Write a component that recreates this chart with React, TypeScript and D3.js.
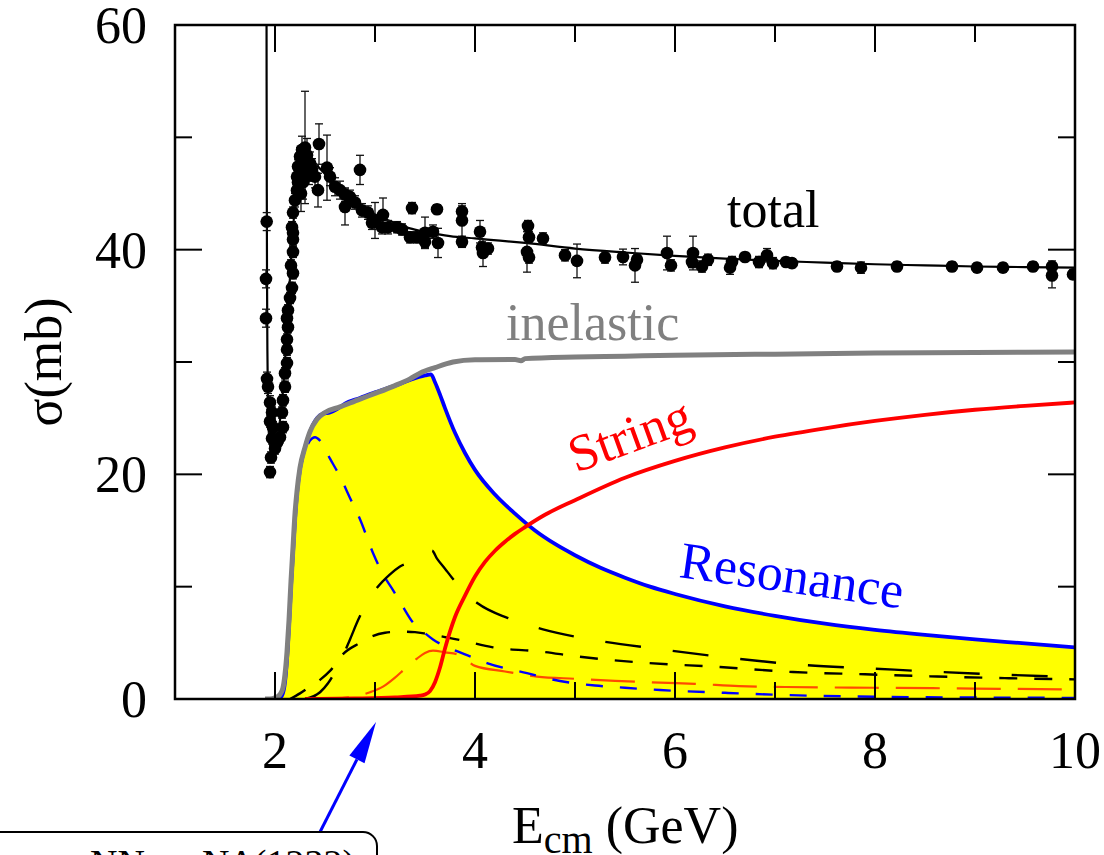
import React from 'react';
import * as d3 from 'd3';

// Plot frame (pixels) and font
const W = 1104;
const H = 855;
const FRAME = { left: 175, right: 1075, top: 25, bottom: 699 };
const SERIF = '"Liberation Serif", "Times New Roman", serif';

// Axis ticks
const xMajorTicks = [2, 4, 6, 8, 10];
const xMinorTicks = [3, 5, 7, 9];
const yMajorTicks = [0, 20, 40, 60];
const yMinorTicks = [10, 30, 50];

type Pt = [number, number];

// Model curves: [E_cm (GeV), sigma (mb)]
const totalCurve: Pt[] = [
  [1.914, 75], [1.916, 55], [1.918, 45], [1.92, 38], [1.924, 31], [1.93, 26], [1.94, 23.5],
  [1.96, 22.3], [1.99, 22.2], [2.02, 23.0], [2.05, 24.8], [2.08, 27.5], [2.11, 31.5],
  [2.14, 36.0], [2.17, 40.5], [2.2, 44.0], [2.23, 46.3], [2.27, 47.7], [2.32, 48.2],
  [2.38, 47.9], [2.45, 47.2], [2.55, 46.3], [2.65, 45.5], [2.75, 44.7], [2.9, 43.7],
  [3.05, 42.9], [3.2, 42.4], [3.35, 41.9], [3.5, 41.6], [3.75, 41.2], [4.0, 41.0],
  [4.25, 40.8], [4.5, 40.6], [5.0, 40.1], [5.5, 39.75], [6.0, 39.45], [6.5, 39.2],
  [7.0, 39.0], [7.5, 38.85], [8.0, 38.7], [8.5, 38.6], [9.0, 38.5], [9.5, 38.45], [10.0, 38.4],
];

const inelasticCurve: Pt[] = [
  [1.9, 0], [1.95, 0], [2.0, 0.1], [2.05, 0.4], [2.08, 1.0], [2.1, 2.2], [2.12, 4.2],
  [2.14, 7.0], [2.16, 10.5], [2.18, 13.5], [2.2, 16.5], [2.22, 18.5], [2.25, 20.6],
  [2.3, 22.4], [2.35, 23.8], [2.42, 24.9], [2.5, 25.5], [2.65, 26.0], [2.85, 26.7],
  [3.0, 27.2], [3.2, 27.9], [3.35, 28.5], [3.45, 29.0], [3.6, 29.5], [3.78, 30.0],
  [4.0, 30.2], [4.4, 30.22], [4.46, 30.12], [4.5, 30.3], [5.0, 30.45], [5.5, 30.52],
  [6.0, 30.6], [7.0, 30.7], [8.0, 30.8], [9.0, 30.85], [10.0, 30.9],
];

const resonanceCurve: Pt[] = [
  [1.9, 0], [2.03, 0], [2.07, 0.3], [2.1, 1.5], [2.12, 3.5], [2.14, 6.5], [2.16, 10],
  [2.18, 13], [2.2, 16], [2.22, 18.3], [2.25, 20.5], [2.3, 22.4], [2.35, 23.8],
  [2.42, 25.0], [2.48, 25.4], [2.55, 25.5], [2.62, 25.8], [2.7, 26.3], [2.85, 26.8],
  [3.0, 27.3], [3.2, 27.9], [3.35, 28.4], [3.5, 28.8], [3.56, 28.9], [3.6, 28.2],
  [3.65, 27.1], [3.7, 25.9], [3.8, 23.7], [3.9, 21.9], [4.0, 20.4], [4.2, 18.2],
  [4.4, 16.5], [4.6, 15.0], [4.8, 13.8], [5.0, 12.8], [5.25, 11.7], [5.5, 10.8],
  [5.75, 10.0], [6.0, 9.35], [6.5, 8.25], [7.0, 7.4], [7.5, 6.7], [8.0, 6.15],
  [8.5, 5.7], [9.0, 5.3], [9.5, 4.95], [10.0, 4.6],
];

// NN -> N Delta(1232)
const deltaCurve: Pt[] = [
  [1.9, 0], [2.03, 0], [2.07, 0.3], [2.1, 1.5], [2.12, 3.5], [2.14, 6.5], [2.16, 10],
  [2.18, 13], [2.2, 16], [2.22, 18.3], [2.25, 20.3], [2.3, 22.0], [2.35, 23.0],
  [2.4, 23.3], [2.45, 23.0], [2.55, 21.4], [2.65, 19.8], [2.75, 17.9], [2.85, 16.0],
  [2.98, 13.0], [3.08, 11.1], [3.18, 9.7], [3.28, 8.2], [3.38, 6.8], [3.48, 6.0],
  [3.58, 5.3], [3.78, 4.4], [3.95, 3.8], [4.12, 3.2], [4.52, 2.3], [4.85, 1.6],
  [5.2, 1.2], [5.5, 1.0], [5.85, 0.8], [6.5, 0.55], [7.0, 0.38], [8.0, 0.2],
  [9.0, 0.13], [10.0, 0.1],
];

const channelLong: Pt[] = [
  [2.3, 0], [2.45, 0.6], [2.53, 1.4], [2.65, 3.3], [2.75, 5.3], [2.83, 7.0], [2.92, 8.6],
  [3.02, 9.9], [3.15, 11.1], [3.25, 11.8], [3.42, 12.4], [3.5, 12.9], [3.57, 13.2],
  [3.62, 12.5], [3.7, 11.6], [3.77, 10.8], [3.9, 9.5], [4.03, 8.5], [4.33, 7.2],
  [4.68, 6.2], [5.19, 5.25], [5.88, 4.4], [6.56, 3.65], [7.25, 3.05], [8.0, 2.7],
  [8.66, 2.4], [9.34, 2.15], [10.0, 1.95],
];

const channelShort: Pt[] = [
  [2.15, 0], [2.25, 0.5], [2.35, 1.1], [2.45, 1.7], [2.55, 2.5], [2.68, 4.0], [2.85, 5.0],
  [2.95, 5.5], [3.1, 5.9], [3.25, 6.0], [3.4, 5.95], [3.52, 5.8], [3.85, 5.25],
  [4.18, 4.6], [4.68, 4.2], [5.01, 3.8], [5.73, 3.2], [6.45, 2.85], [7.18, 2.4],
  [7.9, 2.2], [8.62, 2.0], [9.34, 1.85], [10.0, 1.75],
];

const channelOrange: Pt[] = [
  [2.3, 0], [2.6, 0.05], [2.8, 0.25], [2.95, 0.6], [3.08, 1.1], [3.2, 1.9], [3.3, 2.7],
  [3.42, 3.6], [3.5, 4.1], [3.58, 4.3], [3.7, 4.15], [3.85, 3.9], [4.0, 2.95],
  [4.3, 2.45], [4.62, 2.0], [5.0, 1.8], [5.4, 1.62], [5.85, 1.45], [6.2, 1.35],
  [6.64, 1.15], [7.1, 1.07], [7.5, 1.03], [8.0, 1.0], [9.0, 0.93], [10.0, 0.85],
];

const stringCurve: Pt[] = [
  [2.3, 0], [2.8, 0.05], [3.2, 0.15], [3.45, 0.3], [3.5, 0.4], [3.55, 0.7], [3.6, 1.5],
  [3.65, 2.8], [3.7, 4.5], [3.8, 7.3], [3.9, 9.2], [4.0, 10.9], [4.1, 12.2],
  [4.2, 13.2], [4.3, 14.0], [4.4, 14.7], [4.5, 15.3], [4.7, 16.4], [5.0, 17.7],
  [5.5, 19.7], [6.0, 21.2], [6.5, 22.4], [7.0, 23.35], [7.5, 24.1], [8.0, 24.75],
  [8.5, 25.3], [9.0, 25.75], [9.5, 26.1], [10.0, 26.4],
];

// Measured total cross sections: [E_cm (GeV), sigma (mb), error (mb)]
const measurements: [number, number, number][] = [
  [1.917, 42.5, 0.8], [1.91, 37.4, 0.8], [1.91, 33.9, 0.8], [1.92, 28.5, 0.6],
  [1.93, 27.8, 0.6], [1.95, 26.4, 0.6], [1.97, 25.5, 0.5], [1.95, 24.7, 0.5],
  [1.98, 24.2, 0.5], [1.97, 23.2, 0.5], [2.02, 22.8, 0.5], [2.0, 22.3, 0.5],
  [1.96, 21.5, 0.5], [1.95, 20.2, 0.5],
  [2.05, 23.3, 0.5], [2.08, 24.2, 0.5], [2.07, 25.5, 0.5], [2.08, 26.6, 0.5],
  [2.1, 27.8, 0.5], [2.1, 29.0, 0.5], [2.12, 29.9, 0.5], [2.12, 31.1, 0.5],
  [2.12, 32.0, 0.5], [2.13, 33.1, 0.5], [2.12, 33.9, 0.5], [2.13, 34.6, 0.5],
  [2.15, 35.7, 0.5], [2.17, 36.6, 0.5], [2.18, 37.9, 0.5], [2.16, 38.6, 0.5],
  [2.18, 39.8, 0.5], [2.18, 40.9, 0.5], [2.18, 41.5, 0.5], [2.17, 42.0, 0.5],
  [2.18, 43.3, 0.5], [2.2, 44.4, 0.6], [2.22, 45.3, 0.6], [2.22, 46.5, 0.6],
  [2.23, 47.4, 0.6], [2.25, 48.3, 0.8], [2.27, 48.9, 1.2], [2.3, 49.1, 5.0],
  [2.32, 48.4, 1.5], [2.35, 47.7, 1.0], [2.37, 47.1, 1.0], [2.4, 46.5, 1.0],
  [2.43, 45.3, 1.5], [2.44, 49.4, 1.8], [2.23, 46.0, 0.8], [2.25, 47.0, 0.8],
  [2.28, 46.0, 1.5], [2.3, 47.5, 1.2], [2.34, 46.6, 0.8], [2.26, 45.0, 1.6],
  [2.52, 47.3, 2.9], [2.55, 46.5, 0.8], [2.6, 45.6, 0.8], [2.65, 45.3, 0.8],
  [2.7, 44.9, 0.6], [2.7, 43.8, 1.6], [2.75, 44.7, 0.6], [2.8, 44.2, 0.6],
  [2.85, 47.1, 1.3], [2.87, 43.5, 0.6], [2.93, 43.3, 0.6], [2.97, 42.4, 0.6],
  [3.08, 43.1, 1.5], [3.07, 42.0, 0.6], [3.13, 42.0, 0.6], [3.0, 42.6, 1.6],
  [3.22, 42.0, 0.5], [3.27, 41.8, 0.5], [3.37, 43.7, 0.5], [3.35, 41.1, 0.5],
  [3.42, 41.1, 0.5], [3.5, 41.5, 1.4], [3.5, 40.7, 0.5], [3.58, 41.6, 0.6],
  [3.62, 43.6, 0.4], [3.63, 40.6, 1.3], [3.87, 43.4, 0.5], [3.87, 42.6, 1.5],
  [3.87, 40.7, 0.5], [4.05, 41.6, 1.0], [4.07, 40.2, 0.5], [4.08, 39.7, 1.2],
  [4.13, 40.1, 0.5], [4.53, 42.1, 0.5], [4.54, 41.1, 0.5], [4.52, 39.8, 1.8],
  [4.54, 39.3, 0.5], [4.68, 41.0, 0.5], [4.9, 39.5, 0.5], [5.02, 39.0, 1.5],
  [5.3, 39.3, 0.5], [5.48, 39.35, 0.7], [5.62, 39.1, 0.5], [5.6, 38.6, 1.5],
  [5.92, 39.7, 1.5], [5.96, 38.6, 0.5], [6.18, 39.7, 1.5], [6.17, 38.9, 0.5],
  [6.27, 38.5, 0.5], [6.33, 39.1, 0.5], [6.57, 38.9, 0.5], [6.55, 38.4, 0.6],
  [6.7, 39.35, 0.4], [6.84, 38.9, 0.5], [6.92, 39.5, 0.6], [6.98, 38.8, 0.5],
  [7.11, 38.9, 0.4], [7.17, 38.8, 0.4], [7.62, 38.5, 0.4], [7.86, 38.4, 0.5],
  [8.22, 38.5, 0.4], [8.77, 38.5, 0.4], [9.02, 38.4, 0.4], [9.28, 38.4, 0.4],
  [9.58, 38.5, 0.4], [9.77, 38.5, 0.5], [9.77, 37.7, 1.1], [9.98, 37.8, 0.4],
];

export default function App() {
  const x = d3.scaleLinear().domain([1, 10]).range([FRAME.left, FRAME.right]);
  const y = d3.scaleLinear().domain([0, 60]).range([FRAME.bottom, FRAME.top]);

  const line = d3
    .line<Pt>()
    .x((d) => x(d[0]))
    .y((d) => y(d[1]))
    .curve(d3.curveMonotoneX);

  const area = d3
    .area<Pt>()
    .x((d) => x(d[0]))
    .y0(y(0))
    .y1((d) => y(d[1]))
    .curve(d3.curveMonotoneX);

  const MAJOR = 27;
  const MINOR = 17;

  // annotation arrow: from box edge up to the NN -> N Delta channel near 3 GeV
  const tail: Pt = [320, 832];
  const tip: Pt = [x(3.01), y(0) + 23];
  const dx = tip[0] - tail[0];
  const dy = tip[1] - tail[1];
  const len = Math.hypot(dx, dy);
  const ux = dx / len;
  const uy = dy / len;
  const headLen = 42;
  const headHalf = 8.5;
  const bx = tip[0] - ux * headLen;
  const by = tip[1] - uy * headLen;
  const head = [
    [tip[0], tip[1]],
    [bx - uy * headHalf, by + ux * headHalf],
    [bx + uy * headHalf, by - ux * headHalf],
  ]
    .map((p) => p.join(','))
    .join(' ');

  return (
    <svg
      width={W}
      height={H}
      viewBox={`0 0 ${W} ${H}`}
      style={{ position: 'absolute', left: 0, top: 0, display: 'block', background: '#fff' }}
      fontFamily={SERIF}
    >
      <defs>
        <clipPath id="plot-area">
          <rect
            x={FRAME.left}
            y={FRAME.top}
            width={FRAME.right - FRAME.left}
            height={FRAME.bottom - FRAME.top}
          />
        </clipPath>
      </defs>

      <g clipPath="url(#plot-area)">
        {/* resonance region */}
        <path d={area(resonanceCurve) ?? ''} fill="#ffff00" stroke="none" />

        {/* individual channels */}
        <path d={line(channelOrange) ?? ''} fill="none" stroke="#ff4a00" strokeWidth={2.2} strokeDasharray="44,17" />
        <path d={line(deltaCurve) ?? ''} fill="none" stroke="#0000ff" strokeWidth={2.4} strokeDasharray="17,17" />
        <path d={line(channelShort) ?? ''} fill="none" stroke="#000" strokeWidth={2.4} strokeDasharray="18,17" />
        <path d={line(channelLong) ?? ''} fill="none" stroke="#000" strokeWidth={2.4} strokeDasharray="36,32" />

        {/* sums */}
        <path d={line(resonanceCurve) ?? ''} fill="none" stroke="#0000ff" strokeWidth={3.8} strokeLinejoin="round" />
        <path d={line(inelasticCurve) ?? ''} fill="none" stroke="#808080" strokeWidth={5} strokeLinejoin="round" />
        <path d={line(stringCurve) ?? ''} fill="none" stroke="#ff0000" strokeWidth={3.8} />
        <path d={line(totalCurve) ?? ''} fill="none" stroke="#000" strokeWidth={2.2} />

        {/* data */}
        <g stroke="#111" strokeWidth={1.3}>
          {measurements.map(([e, s, err], i) => {
            const cx = x(e);
            const y1 = y(s - err);
            const y2 = y(s + err);
            return (
              <g key={`eb${i}`}>
                <line x1={cx} x2={cx} y1={y1} y2={y2} />
                <line x1={cx - 4} x2={cx + 4} y1={y1} y2={y1} />
                <line x1={cx - 4} x2={cx + 4} y1={y2} y2={y2} />
              </g>
            );
          })}
        </g>
        <g fill="#000">
          {measurements.map(([e, s], i) => (
            <circle key={`pt${i}`} cx={x(e)} cy={y(s)} r={6.3} />
          ))}
        </g>
      </g>

      {/* frame */}
      <rect
        x={FRAME.left}
        y={FRAME.top}
        width={FRAME.right - FRAME.left}
        height={FRAME.bottom - FRAME.top}
        fill="none"
        stroke="#000"
        strokeWidth={2.5}
      />

      {/* ticks, mirrored on all four sides */}
      <g stroke="#000" strokeWidth={2}>
        {[...xMajorTicks.map((t) => [t, MAJOR]), ...xMinorTicks.map((t) => [t, MINOR])].map(([t, l]) => (
          <g key={`xt${t}`}>
            <line x1={x(t)} x2={x(t)} y1={FRAME.bottom} y2={FRAME.bottom - l} />
            <line x1={x(t)} x2={x(t)} y1={FRAME.top} y2={FRAME.top + l} />
          </g>
        ))}
        {[...yMajorTicks.map((t) => [t, MAJOR]), ...yMinorTicks.map((t) => [t, MINOR])].map(([t, l]) => (
          <g key={`yt${t}`}>
            <line x1={FRAME.left} x2={FRAME.left + l} y1={y(t)} y2={y(t)} />
            <line x1={FRAME.right} x2={FRAME.right - l} y1={y(t)} y2={y(t)} />
          </g>
        ))}
      </g>

      {/* tick labels */}
      <g fontSize={52} fill="#000">
        {xMajorTicks.map((t) => (
          <text key={`xl${t}`} x={x(t)} y={768} textAnchor="middle">
            {t}
          </text>
        ))}
        {yMajorTicks.map((t) => (
          <text key={`yl${t}`} x={147} y={y(t) + 18} textAnchor="end">
            {t}
          </text>
        ))}
      </g>

      {/* axis titles */}
      <text x={512} y={843} fontSize={52} fill="#000">
        E
        <tspan fontSize={40} dy={10}>
          cm
        </tspan>
        <tspan fontSize={52} dy={-10}>
          {' (GeV)'}
        </tspan>
      </text>
      <text transform="translate(61,362) rotate(-90)" fontSize={52} textAnchor="middle" fill="#000">
        σ(mb)
      </text>

      {/* curve labels */}
      <text x={727} y={227} fontSize={52} fill="#000">
        total
      </text>
      <text x={506} y={340} fontSize={52} fill="#808080">
        inelastic
      </text>
      <text transform="translate(576,473) rotate(-20)" fontSize={52} fill="#ff0000">
        String
      </text>
      <text transform="translate(678,577) rotate(8)" fontSize={52} fill="#0000ff">
        Resonance
      </text>

      {/* channel annotation */}
      <line x1={tail[0]} y1={tail[1]} x2={bx} y2={by} stroke="#0000ff" strokeWidth={3} />
      <polygon points={head} fill="#0000ff" />
      <rect x={-30} y={832} width={407} height={80} rx={14} ry={14} fill="#fff" stroke="#000" strokeWidth={2} />
      <text x={90} y={876} fontSize={38} fill="#000">
        NN → NΔ(1232)
      </text>
    </svg>
  );
}
